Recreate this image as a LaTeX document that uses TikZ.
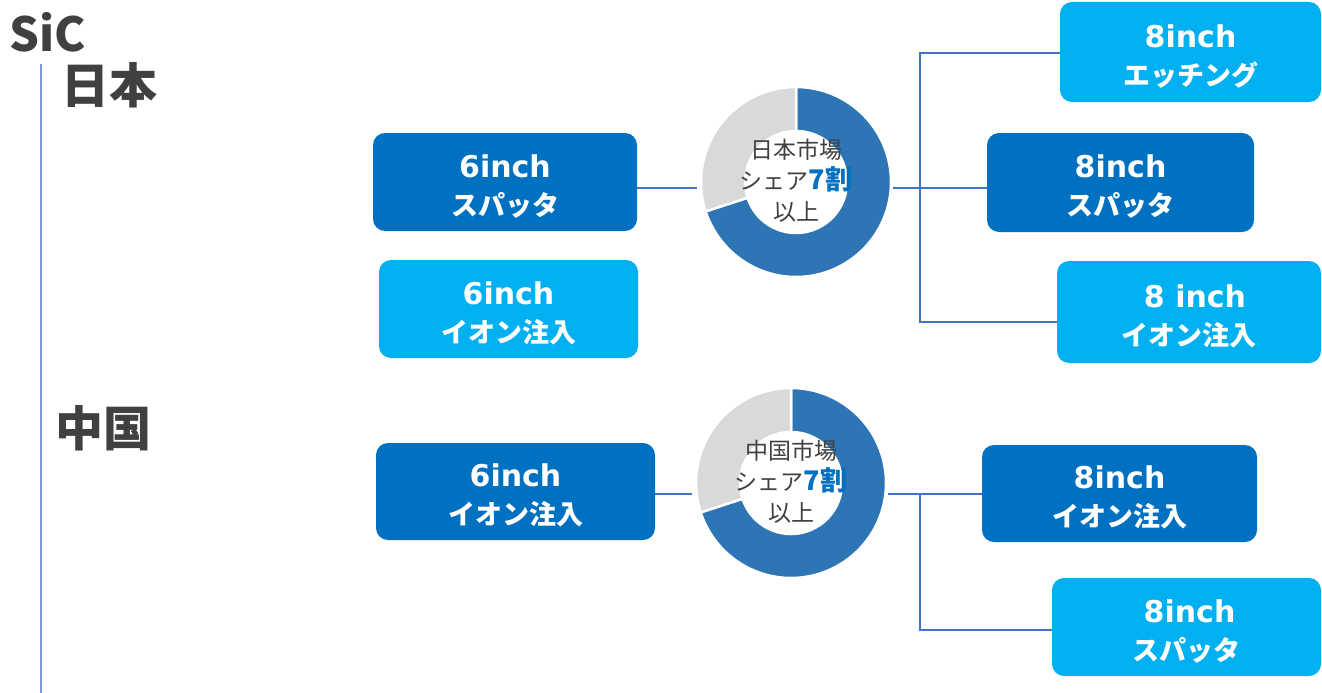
\documentclass[tikz,border=0pt]{standalone}
\usepackage{fontspec}
\setmainfont{DejaVu Sans}
\newfontfamily\cjk{Noto Sans CJK JP}
\definecolor{boxdark}{HTML}{0070C0}
\definecolor{boxlight}{HTML}{00B0F0}
\definecolor{ringdark}{HTML}{2E75B6}
\definecolor{ringgray}{HTML}{D9D9D9}
\definecolor{txtgray}{HTML}{404040}
\definecolor{conn}{HTML}{4472C4}
\definecolor{vline}{HTML}{7B9BDB}
\tikzset{
  box/.style={rounded corners=12pt, text=white, align=center, inner sep=0pt,
    font=\fontsize{30}{38}\selectfont\bfseries},
  darkbox/.style={box, fill=boxdark},
  lightbox/.style={box, fill=boxlight},
  connector/.style={draw=conn, line width=1.1pt},
  donut/.style={circle, minimum size=190pt, inner sep=0pt},
  donuttext/.style={align=center, text=txtgray, font=\cjk\fontsize{23}{31}\selectfont},
  heading/.style={text=txtgray, inner sep=0pt, font=\cjk\bfseries\fontsize{48}{48}\selectfont},
}
\newcommand\jp[1]{{\cjk\fontsize{27}{38}\selectfont #1}}
\newcommand\topstrut{\rule{0pt}{31pt}}
\newcommand\seven{{\bfseries\fontsize{27}{31}\selectfont\color{boxdark}7割}}
\newcommand\ringsegs{%
  \fill[ringdark, draw=white, line width=2.5pt] (-90:95) arc[start angle=-90, end angle=162, radius=95]
     -- (162:51) arc[start angle=162, end angle=-90, radius=51] -- cycle;
  \fill[ringgray, draw=white, line width=2.5pt] (162:95) arc[start angle=162, end angle=270, radius=95]
     -- (270:51) arc[start angle=270, end angle=162, radius=51] -- cycle;
}
\begin{document}
\begin{tikzpicture}[x=1pt, y=-1pt]
\useasboundingbox (0,0) rectangle (1322,693);

% titles
\node[heading, font=\cjk\bfseries\fontsize{47}{47}\selectfont] (sic) at (48,32) {SiC};
\node[heading] (jp) at (109,85) {日本};
\node[heading] (cn) at (103,428) {中国};
\coordinate (vtop) at (41,64);
\coordinate (vbot) at (41,693);
\draw[vline, line width=2pt] (vtop) -- (vbot);

% donuts
\node[donut] (d1) at (796,182) {};
\begin{scope}[shift={(d1.center)}]\ringsegs\end{scope}
\node[donuttext] (t1) at (796,181) {日本市場\\シェア\seven\\以上};

\node[donut] (d2) at (791,483) {};
\begin{scope}[shift={(d2.center)}]\ringsegs\end{scope}
\node[donuttext] (t2) at (791,482) {中国市場\\シェア\seven\\以上};

% boxes Japan
\node[darkbox, minimum width=264pt, minimum height=98pt] (A) at (505,182) {\topstrut 6inch\\\jp{スパッタ}};
\node[lightbox, minimum width=259pt, minimum height=98pt] (B) at (508.5,309) {\topstrut 6inch\\\jp{イオン注入}};
\node[lightbox, minimum width=261pt, minimum height=100pt] (C) at (1190.5,52) {\topstrut 8inch\\\jp{エッチング}};
\node[darkbox, minimum width=267pt, minimum height=99pt] (D) at (1120.5,182.5) {\topstrut 8inch\\\jp{スパッタ}};
\node[lightbox, minimum width=264pt, minimum height=102pt] (E) at (1189,312) {\topstrut\hspace*{12pt}8 inch\\\jp{イオン注入}};

% boxes China
\node[darkbox, minimum width=279pt, minimum height=97pt] (F) at (515.5,491.5) {\topstrut 6inch\\\jp{イオン注入}};
\node[darkbox, minimum width=275pt, minimum height=97pt] (G) at (1119.5,493.5) {\topstrut 8inch\\\jp{イオン注入}};
\node[lightbox, minimum width=269pt, minimum height=98pt] (H) at (1186.5,627) {\topstrut\hspace*{6pt}8inch\\\jp{スパッタ}};

% connectors Japan
\coordinate (j1) at (920,188);
\coordinate (t1c) at (920,53);
\coordinate (b1c) at (920,322);
\draw[connector] (A.east |- j1) -- ([xshift=-4pt]d1.west |- j1);
\draw[connector] ([xshift=2pt]d1.east |- j1) -- (j1) -- (D.west |- j1);
\draw[connector] (C.west |- t1c) -- (t1c) -- (b1c) -- (E.west |- b1c);

% connectors China
\coordinate (j2) at (920,494);
\coordinate (b2c) at (920,630);
\draw[connector] (F.east |- j2) -- ([xshift=-4pt]d2.west |- j2);
\draw[connector] ([xshift=2pt]d2.east |- j2) -- (j2) -- (G.west |- j2);
\draw[connector] (j2) -- (b2c) -- (H.west |- b2c);
\end{tikzpicture}
\end{document}
